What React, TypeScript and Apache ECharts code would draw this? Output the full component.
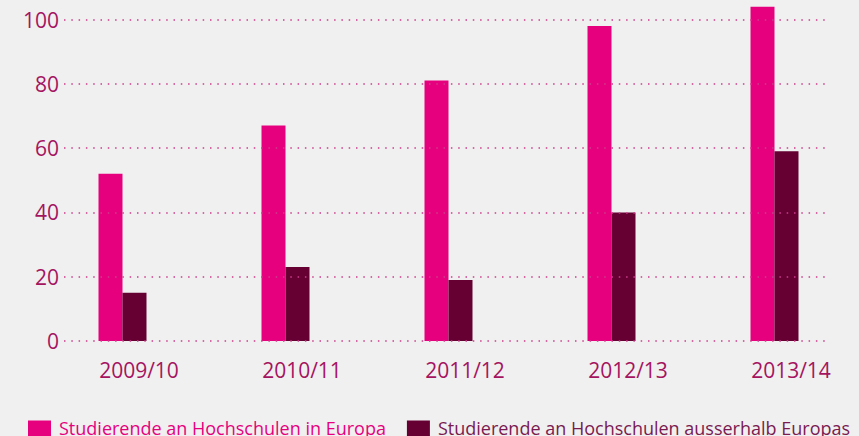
import React, { useEffect, useRef } from "react";
import * as echarts from "echarts";

const categories = ["2009/10", "2010/11", "2011/12", "2012/13", "2013/14"];
const inEurope = [52, 67, 81, 98, 104];
const outsideEurope = [15, 23, 19, 40, 59];
const seriesNames = [
  "Studierende an Hochschulen in Europa",
  "Studierende an Hochschulen ausserhalb Europas",
];
const yTicks = { min: 0, max: 100, interval: 20 };

export default function App() {
  const ref = useRef<HTMLDivElement>(null);
  useEffect(() => {
    if (!ref.current) return;
    const chart = echarts.init(ref.current, undefined, { renderer: "svg" });
    const font = "Open Sans";
    const labelColor = "#a5145f";
    chart.setOption({
      animation: false,
      backgroundColor: "#f0f0f0",
      textStyle: { fontFamily: font },
      grid: [
        { left: 64, right: 33, top: 19.5, bottom: 95 },
        { left: 41, right: 3, top: 19.5, bottom: 95 },
      ],
      legend: {
        left: 23,
        top: 414,
        itemWidth: 23,
        itemHeight: 23,
        itemGap: 21,
        icon: "rect",
        formatter: (name: string) =>
          name === seriesNames[0] ? `{p|${name}}` : `{d|${name}}`,
        textStyle: {
          fontFamily: font,
          fontSize: 18,
          rich: {
            p: { color: "#e6007e", fontSize: 18, fontFamily: font, padding: [0, 0, 8, 3] },
            d: { color: "#7a1a50", fontSize: 18, fontFamily: font, padding: [0, 0, 8, 3] },
          },
        },
        data: [seriesNames[0], seriesNames[1]],
      },
      xAxis: [
        {
          gridIndex: 0,
          type: "category",
          data: categories,
          show: false,
        },
        {
          gridIndex: 1,
          type: "category",
          data: categories,
          axisLine: { show: false },
          axisTick: { show: false },
          axisLabel: {
            color: labelColor,
            fontSize: 21,
            margin: 18,
            fontFamily: font,
            padding: [0, 0, 0, 33],
          },
        },
      ],
      yAxis: [
        {
          gridIndex: 0,
          type: "value",
          min: yTicks.min,
          max: yTicks.max,
          interval: yTicks.interval,
          z: 5,
          axisLine: { show: false },
          axisTick: { show: false },
          axisLabel: { color: labelColor, fontSize: 21, margin: 5, fontFamily: font },
          splitLine: {
            show: true,
            lineStyle: { color: "#cc3d8c", width: 1.5, type: [1.5, 5.8] },
          },
        },
        {
          gridIndex: 1,
          type: "value",
          min: yTicks.min,
          max: yTicks.max,
          interval: yTicks.interval,
          show: false,
          splitLine: { show: false },
        },
      ],
      series: [
        {
          name: seriesNames[0],
          type: "bar",
          xAxisIndex: 1,
          yAxisIndex: 1,
          data: inEurope,
          barWidth: 24,
          barGap: "0%",
          clip: false,
          z: 2,
          itemStyle: { color: "#e6007e" },
        },
        {
          name: seriesNames[1],
          type: "bar",
          xAxisIndex: 1,
          yAxisIndex: 1,
          data: outsideEurope,
          barWidth: 24,
          barGap: "0%",
          clip: false,
          z: 2,
          itemStyle: { color: "#660033" },
        },
      ],
    });
    return () => chart.dispose();
  }, []);
  return (
    <div
      ref={ref}
      style={{ position: "fixed", left: 0, top: 0, width: 859, height: 436 }}
    />
  );
}
